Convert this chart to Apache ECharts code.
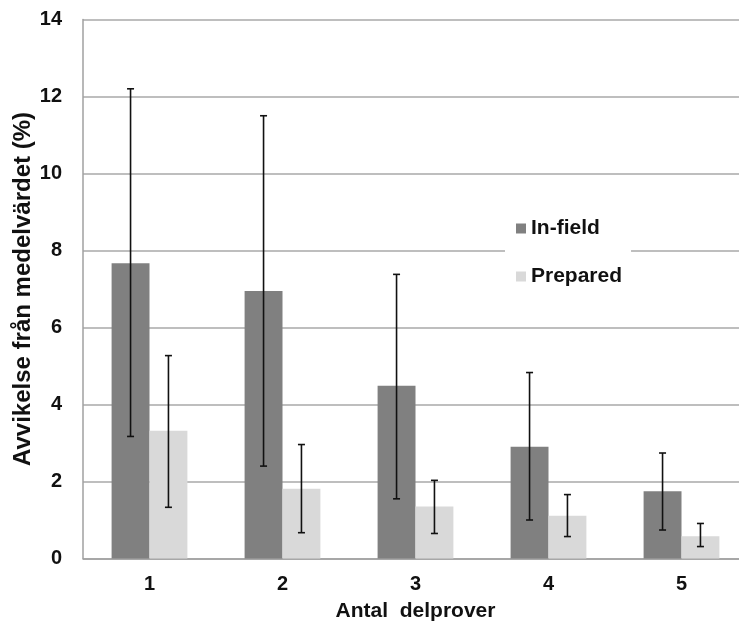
<!DOCTYPE html>
<html>
<head>
<meta charset="utf-8">
<script src="https://cdn.jsdelivr.net/npm/echarts@6/dist/echarts.min.js"></script>
<style>
html,body{margin:0;padding:0;background:#fff;overflow:hidden;width:739px;height:626px;}
#chart{width:748px;height:626px;}
</style>
</head>
<body>
<div id="chart"></div>
<script>
const categories = ['1', '2', '3', '4', '5'];
const inField = [7.67, 6.95, 4.49, 2.90, 1.75];
const prepared = [3.32, 1.81, 1.35, 1.11, 0.58];
const inFieldLow = [3.17, 2.40, 1.55, 1.00, 0.74];
const inFieldHigh = [12.2, 11.5, 7.38, 4.83, 2.74];
const preparedLow = [1.33, 0.67, 0.65, 0.57, 0.31];
const preparedHigh = [5.27, 2.96, 2.03, 1.66, 0.91];
const yTicks = [0, 2, 4, 6, 8, 10, 12, 14];

const FONT = '"Liberation Sans", Arial, sans-serif';
const chart = echarts.init(document.getElementById('chart'));

function errData(low, high) {
  return categories.map((c, i) => [i, low[i], high[i]]);
}
function errRender(sign) {
  return function (params, api) {
    const xi = api.value(0);
    const lo = api.coord([xi, api.value(1)]);
    const hi = api.coord([xi, api.value(2)]);
    const band = api.size([1, 0])[0];
    const x = lo[0] + sign * band * 0.1425;
    const cap = 3.5;
    const style = { stroke: '#111', lineWidth: 1.6 };
    return {
      type: 'group',
      children: [
        { type: 'line', shape: { x1: x, y1: lo[1], x2: x, y2: hi[1] }, style: style },
        { type: 'line', shape: { x1: x - cap, y1: lo[1], x2: x + cap, y2: lo[1] }, style: style },
        { type: 'line', shape: { x1: x - cap, y1: hi[1], x2: x + cap, y2: hi[1] }, style: style }
      ]
    };
  };
}

chart.setOption({
  backgroundColor: '#ffffff',
  animation: false,
  grid: { left: 83, top: 19.5, bottom: 67.5, right: 0, containLabel: false, outerBoundsMode: 'none' },
  legend: {
    data: ['In-field', 'Prepared'],
    orient: 'vertical',
    left: 505,
    top: 214,
    icon: 'rect',
    itemWidth: 10,
    itemHeight: 10,
    itemGap: 27,
    padding: [4, 9, 4, 11],
    backgroundColor: '#ffffff',
    textStyle: { fontFamily: FONT, fontWeight: 'bold', fontSize: 21, color: '#111' }
  },
  xAxis: {
    type: 'category',
    data: categories,
    name: 'Antal  delprover',
    nameLocation: 'middle',
    nameGap: 42,
    nameTextStyle: { fontFamily: FONT, fontWeight: 'bold', fontSize: 21, color: '#111' },
    axisTick: { show: false },
    axisLine: { lineStyle: { color: '#a0a0a0', width: 1.5 } },
    axisLabel: { fontFamily: FONT, fontWeight: 'bold', fontSize: 20, color: '#111', margin: 16 }
  },
  yAxis: {
    type: 'value',
    min: 0,
    max: 14,
    interval: 2,
    name: 'Avvikelse från medelvärdet (%)',
    nameLocation: 'middle',
    nameGap: 48,
    nameMoveOverlap: false,
    nameTextStyle: { fontFamily: FONT, fontWeight: 'bold', fontSize: 24, color: '#111' },
    axisLine: { show: true, lineStyle: { color: '#a0a0a0', width: 1.5 } },
    axisTick: { show: false },
    axisLabel: { fontFamily: FONT, fontWeight: 'bold', fontSize: 20, color: '#111', margin: 21,
      formatter: v => yTicks.includes(v) ? String(v) : '' },
    splitLine: { lineStyle: { color: '#a8a8a8', width: 1.5 } }
  },
  series: [
    { name: 'In-field', type: 'bar', data: inField, barGap: 0, barCategoryGap: '43%',
      itemStyle: { color: '#808080' } },
    { name: 'Prepared', type: 'bar', data: prepared, barGap: 0, barCategoryGap: '43%',
      itemStyle: { color: '#d9d9d9' } },
    { name: 'errIn', type: 'custom', data: errData(inFieldLow, inFieldHigh), renderItem: errRender(-1),
      encode: { x: 0, y: [1, 2] }, z: 5 },
    { name: 'errPrep', type: 'custom', data: errData(preparedLow, preparedHigh), renderItem: errRender(1),
      encode: { x: 0, y: [1, 2] }, z: 5 }
  ]
});
</script>
</body>
</html>
